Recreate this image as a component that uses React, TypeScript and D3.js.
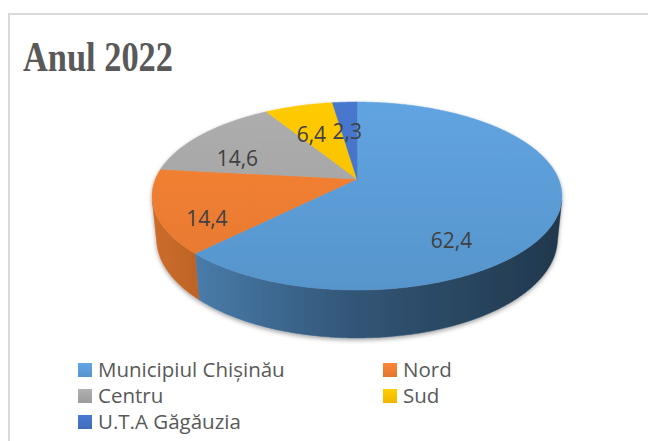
import React from 'react';
import * as d3 from 'd3';

const categories = ['Municipiul Chișinău', 'Nord', 'Centru', 'Sud', 'U.T.A Găgăuzia'];
const values = [62.4, 14.4, 14.6, 6.4, 2.3];
const colors = ['#5b9bd5', '#ed7d31', '#a5a5a5', '#ffc000', '#4472c4'];
const title = 'Anul 2022';

const W = 648;
const H = 441;

// perspective 3D pie: disk projected with a tilted camera
const cx = 357;
const cy = 179;
const S = 201.6; // screen radius at centre depth
const u = 0.2027; // radius / camera distance
const sinA = 0.451;
const cosA = Math.sqrt(1 - sinA * sinA);
const k = 0.2377; // thickness / radius

const project = (rf: number, a: number, zd: number): [number, number] => {
  const X = rf * Math.sin(a);
  const Y = rf * Math.cos(a);
  const up = Y * sinA + zd * cosA;
  const depth = 1 + u * (Y * cosA - zd * sinA);
  return [cx + (S * X) / depth, cy - (S * up) / depth];
};

const arcPoints = (a0: number, a1: number, zd: number) => {
  const n = Math.max(2, Math.ceil(Math.abs(a1 - a0) / 0.01));
  return d3.range(n + 1).map(i => project(1, a0 + ((a1 - a0) * i) / n, zd));
};

const line = d3.line<[number, number]>();

const visFrom = Math.acos(-u / cosA);
const visTo = 2 * Math.PI - visFrom;

const shade = (c: string, f: number) => {
  const r = d3.rgb(c);
  return d3.rgb(r.r * f, r.g * f, r.b * f).formatHex();
};

export default function App() {
  const arcs = d3.pie<number>().sort(null).startAngle(0).endAngle(2 * Math.PI)(values);
  const total = d3.sum(values);

  return (
    <svg width={W} height={H} style={{ position: 'absolute', left: 0, top: 0, background: '#fff' }}>
      <defs>
        <filter id="shadow" x="-10%" y="-10%" width="120%" height="130%">
          <feDropShadow dx="0" dy="2" stdDeviation="2" floodColor="#000" floodOpacity="0.35" />
        </filter>
        {colors.map((c, i) => (
          <linearGradient key={'w' + i} id={'wall' + i} gradientUnits="userSpaceOnUse" x1={cx - S} x2={cx + S} y1={0} y2={0}>
            <stop offset="0" stopColor={shade(c, 0.86)} />
            <stop offset="0.5" stopColor={shade(c, 0.55)} />
            <stop offset="1" stopColor={shade(c, 0.36)} />
          </linearGradient>
        ))}
        {colors.map((c, i) => (
          <linearGradient key={'t' + i} id={'top' + i} gradientUnits="userSpaceOnUse" x1={0} x2={0} y1={100} y2={290}>
            <stop offset="0" stopColor={d3.color(c)!.brighter(0.15).formatHex()} />
            <stop offset="1" stopColor={d3.color(c)!.darker(0.12).formatHex()} />
          </linearGradient>
        ))}
        {colors.map((c, i) => (
          <linearGradient key={'l' + i} id={'leg' + i} x1="0" x2="0" y1="0" y2="1">
            <stop offset="0" stopColor={d3.color(c)!.brighter(0.2).formatHex()} />
            <stop offset="1" stopColor={d3.color(c)!.darker(0.15).formatHex()} />
          </linearGradient>
        ))}
      </defs>

      <rect x={9} y={14} width={700} height={500} fill="#fff" stroke="#d9d9d9" strokeWidth={2} />

      <text
        x={23}
        y={71}
        fontFamily="'Liberation Serif', 'Times New Roman', serif"
        fontWeight="bold"
        fontSize={43}
        fill="#595959"
        textLength={150}
        lengthAdjust="spacingAndGlyphs"
      >
        {title}
      </text>

      <g filter="url(#shadow)">
        {arcs.map((d, i) => {
          const b0 = Math.max(d.startAngle, visFrom);
          const b1 = Math.min(d.endAngle, visTo);
          if (b1 <= b0) return null;
          const pts = [...arcPoints(b0, b1, 0), ...arcPoints(b1, b0, -k)];
          return <path key={'side' + i} d={line(pts) + 'Z'} fill={`url(#wall${i})`} stroke={`url(#wall${i})`} strokeWidth={0.5} />;
        })}
        {arcs.map((d, i) => {
          const pts = [project(0, 0, 0), ...arcPoints(d.startAngle, d.endAngle, 0)];
          return <path key={'top' + i} d={line(pts) + 'Z'} fill={`url(#top${i})`} stroke={`url(#top${i})`} strokeWidth={0.5} />;
        })}
      </g>

      {arcs.map((d, i) => {
        const big = d.value / total > 0.5;
        const mid = (d.startAngle + d.endAngle) / 2;
        const [x, y] = project(big ? 0.5 : 0.76, mid, big ? -k : -k / 3);
        return (
          <text
            key={'lab' + i}
            x={x}
            y={y}
            textAnchor="middle"
            dominantBaseline="central"
            fontFamily="'Open Sans', sans-serif"
            fontSize={21}
            fill="#404040"
          >
            {String(values[i]).replace('.', ',')}
          </text>
        );
      })}

      {categories.map((c, i) => {
        const col = i % 2;
        const row = Math.floor(i / 2);
        const x = col === 0 ? 78 : 383;
        const y = 377 + row * 26;
        return (
          <g key={'lg' + i}>
            <rect x={x} y={y - 14} width={14} height={14} fill={`url(#leg${i})`} />
            <text x={x + 20} y={y} fontFamily="'Open Sans', sans-serif" fontSize={20.5} fill="#595959">
              {c}
            </text>
          </g>
        );
      })}
    </svg>
  );
}
